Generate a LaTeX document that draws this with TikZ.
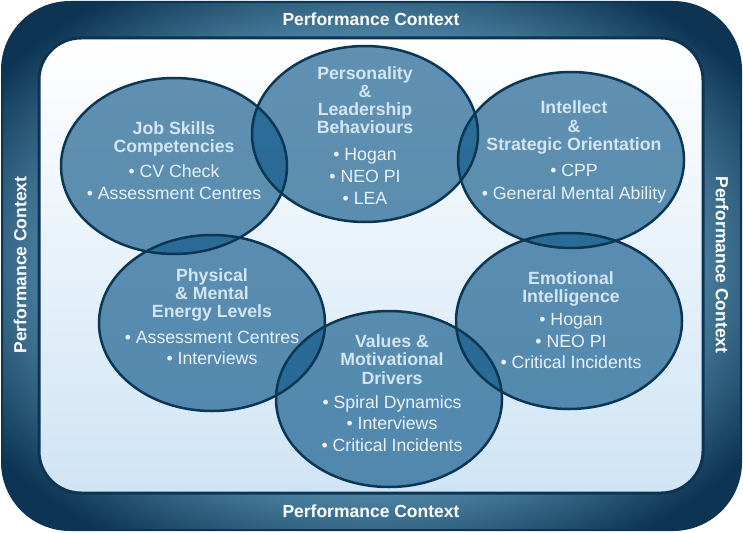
\documentclass[tikz,border=0pt]{standalone}
\usepackage{fontspec}
\setmainfont{Liberation Sans}
\usetikzlibrary{shapes.geometric}

\definecolor{frameDark}{HTML}{0D3553}
\definecolor{frameLight}{HTML}{6CA8CA}
\definecolor{innerBlue}{HTML}{CFE4F5}
\definecolor{blobBlue}{HTML}{145B8C}
\definecolor{rimBlue}{HTML}{0C3754}
\definecolor{titleBlue}{HTML}{D3E5F1}
\definecolor{itemWhite}{HTML}{EAF2F8}

\pgfdeclareradialshading{frameglow}{\pgfpoint{0bp}{0bp}}{color(0bp)=(frameLight); color(17bp)=(frameLight); color(31bp)=(frameDark); color(50bp)=(frameDark)}

\newcommand{\ttl}[1]{{\bfseries\color{titleBlue}#1}}

\tikzset{
  blob/.style={ellipse, minimum width=226, minimum height=176, inner sep=0, fill=blobBlue, fill opacity=0.67},
  rim/.style={ellipse, minimum width=226, minimum height=176, inner sep=0, draw=rimBlue, line width=2.5},
  blobtext/.style={align=center, text=itemWhite, font=\fontsize{17.7}{18.3}\selectfont},
  context/.style={text=white, font=\fontsize{17.5}{20}\selectfont\bfseries},
}

\begin{document}
\begin{tikzpicture}[x=1pt, y=-1pt]
\useasboundingbox (0,0) rectangle (743,532);

% frame
\shade[shading=frameglow, rounded corners=68] (2,2) rectangle (741,530);
\draw[frameDark, line width=2, rounded corners=68] (2,2) rectangle (741,530);
\shade[top color=white, bottom color=innerBlue, draw=frameDark, line width=3, rounded corners=42] (39,38) rectangle (703,493);

\node[context] (ctxtop) at (371,19) {Performance Context};
\node[context] (ctxbottom) at (371,511) {Performance Context};
\node[context, rotate=90] (ctxleft) at (20,265) {Performance Context};
\node[context, rotate=-90] (ctxright) at (722,265) {Performance Context};

% ellipses
\foreach \n/\x/\y in {job/174/166, pers/365/134, intel/571/160, phys/212/323, values/389/399, emo/569/321}
  \node[blob] (\n) at (\x,\y) {};
\foreach \n in {job, pers, intel, phys, values, emo}
  \node[rim] (\n-rim) at (\n) {};

% texts
\node[blobtext] (jobtxt) at (174,160.5) {\ttl{Job Skills}\\ \ttl{Competencies}\\[7pt] • CV Check\\[3pt] • Assessment Centres};
\node[blobtext] (perstxt) at (365,135.5) {\ttl{Personality}\\ \ttl{\&}\\ \ttl{Leadership}\\ \ttl{Behaviours}\\[8pt] • Hogan\\[4pt] • NEO PI\\[4pt] • LEA};
\node[blobtext] (inteltxt) at (574,152) {\ttl{Intellect}\\ \ttl{\&}\\ \ttl{Strategic Orientation}\\[8pt] • CPP\\[4pt] • General Mental Ability};
\node[blobtext] (phystxt) at (212,316.5) {\ttl{Physical}\\ \ttl{\& Mental}\\ \ttl{Energy Levels}\\[7pt] • Assessment Centres\\[3pt] • Interviews};
\node[blobtext] (valuestxt) at (392,393) {\ttl{Values \&}\\ \ttl{Motivational}\\ \ttl{Drivers}\\[6pt] • Spiral Dynamics\\[3pt] • Interviews\\[3pt] • Critical Incidents};
\node[blobtext] (emotxt) at (571,320) {\ttl{Emotional}\\ \ttl{Intelligence}\\[5pt] • Hogan\\[3pt] • NEO PI\\[3pt] • Critical Incidents};
\end{tikzpicture}
\end{document}
